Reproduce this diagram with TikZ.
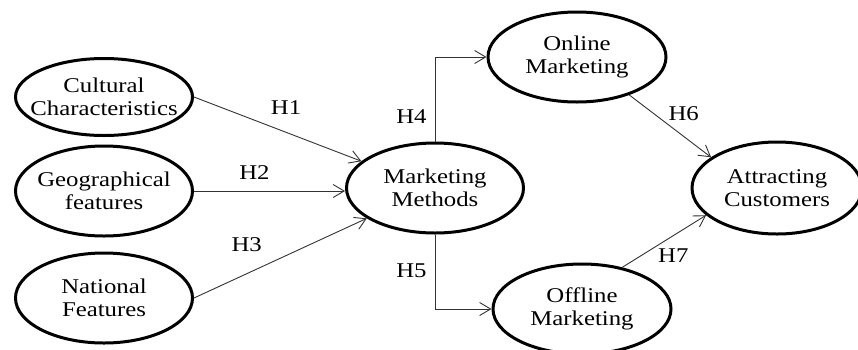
\documentclass[tikz,border=0pt]{standalone}
\usepackage{fontspec}
\setmainfont{Liberation Serif}[FakeStretch=1.18]
\usetikzlibrary{shapes.geometric,arrows.meta}

\begin{document}
\begin{tikzpicture}[x=1pt, y=-1pt, factor/.style={ellipse, draw, line width=3pt, minimum width=177pt, minimum height=90pt, inner xsep=-14pt, inner ysep=0pt, align=center, font=\fontsize{21}{23}\selectfont}, hyp/.style={inner sep=2pt, font=\fontsize{21}{23}\selectfont}, link/.style={draw=black!80, line width=0.9pt, -{Straight Barb[length=11pt,width=13pt]}}]

    \useasboundingbox (0,0) rectangle (858,349);

    \node[factor, minimum height=77pt] (cult) at (104,97) {Cultural\\Characteristics};
    \node[factor, below of=cult, node distance=94pt] (geo) {Geographical\\features};
    \node[factor, below of=geo, node distance=107pt] (nat) {National\\Features};
    \node[factor, right of=geo, node distance=331pt, yshift=3pt] (mm) {Marketing\\Methods};
    \node[factor, right of=mm, node distance=142pt, yshift=131pt, minimum width=178pt] (onl) {Online\\Marketing};
    \node[factor, right of=mm, node distance=147pt, yshift=-121pt, minimum width=178pt] (off) {Offline\\Marketing};
    \node[factor, right of=mm, node distance=342pt, minimum width=170pt, minimum height=92pt] (attr) {Attracting\\Customers};

    \draw[link] (cult.east) -- node[hyp, pos=0.55, above=15pt] {H1} (mm.160);
    \draw[link] (geo.east) -- node[hyp, pos=0.4, above=9pt] {H2} (geo.east -| mm.west);
    \draw[link] (nat.east) -- node[hyp, pos=0.305, above=20pt] {H3} (mm.204);
    \draw[link] (mm.north) |- node[hyp, pos=0.15, left=6pt] {H4} (onl.west);
    \draw[link] (mm.south) |- node[hyp, pos=0.245, left=6pt] {H5} (off.west);
    \draw[link] (onl.324) -- node[hyp, pos=0.45, above right] {H6} (attr.155);
    \draw[link] (off.46) -- node[hyp, pos=0.4, below right] {H7} (attr.201);

  \end{tikzpicture}
\end{document}
